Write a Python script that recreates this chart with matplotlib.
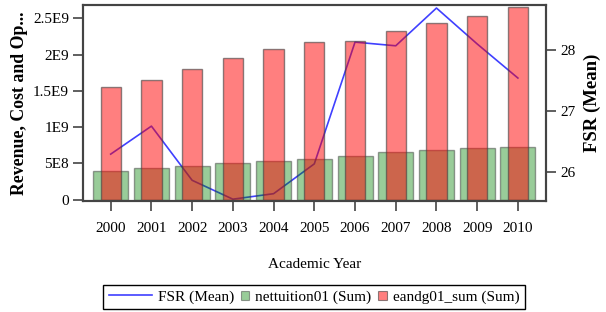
import matplotlib

matplotlib.use("Agg")
import matplotlib.pyplot as plt
import numpy as np
from matplotlib.legend_handler import HandlerBase
from matplotlib.lines import Line2D
from matplotlib.offsetbox import DrawingArea
from matplotlib.patches import Patch, Rectangle

years = ["2000", "2001", "2002", "2003", "2004", "2005", "2006", "2007", "2008", "2009", "2010"]
eandg01_sum = [1.55e9, 1.65e9, 1.80e9, 1.95e9, 2.07e9, 2.17e9, 2.18e9, 2.32e9, 2.43e9, 2.53e9, 2.65e9]
nettuition01 = [0.40e9, 0.44e9, 0.46e9, 0.50e9, 0.535e9, 0.56e9, 0.60e9, 0.65e9, 0.69e9, 0.705e9, 0.725e9]
fsr_mean = [26.29, 26.75, 25.86, 25.55, 25.64, 26.13, 28.13, 28.07, 28.69, 28.10, 27.54]
left_ticks = [0, 5e8, 1e9, 1.5e9, 2e9, 2.5e9]
left_labels = ["0", "5E8", "1E9", "1.5E9", "2E9", "2.5E9"]
right_ticks = [26, 27, 28]

plt.rcParams["font.family"] = ["Liberation Serif", "DejaVu Serif"]
plt.rcParams["font.size"] = 11

GREEN = (0.0, 0.5, 0.0, 0.4)
RED = (1.0, 0.0, 0.0, 0.5)
BLUE = (0.0, 0.0, 1.0, 0.75)
SQUARE = 6.0  # legend square size, points


class SquareHandler(HandlerBase):
    # small square swatch at the left of the handle box
    def create_artists(self, legend, orig_handle, xdescent, ydescent, width, height, fontsize, trans):
        y0 = -ydescent + (height - SQUARE) / 2
        r = Rectangle((-xdescent, y0), SQUARE, SQUARE, transform=trans,
                      facecolor=orig_handle.get_facecolor(), edgecolor=orig_handle.get_edgecolor(),
                      linewidth=0.8)
        return [r]


fig = plt.figure(figsize=(6.06, 3.12), dpi=100)
ax = fig.add_axes([83 / 606, 1 - 201 / 312, 463 / 606, 196 / 312])
ax2 = ax.twinx()
# bars sit above the FSR line, like the original
ax.set_zorder(2)
ax2.set_zorder(1)
ax.patch.set_visible(False)

x = np.arange(len(years))
ax.bar(x, nettuition01, width=0.86, color=GREEN, edgecolor=(0.25, 0.25, 0.25, 0.5), linewidth=1.0)
ax.bar(x, eandg01_sum, width=0.5, color=RED, edgecolor=(0.25, 0.25, 0.25, 0.6), linewidth=1.0)
ax2.plot(x, fsr_mean, color=BLUE, linewidth=1.2)

ax.set_xlim(-0.68, 10.69)
ax.set_ylim(-0.02e9, 2.683e9)
ax2.set_ylim(25.52, 28.74)

ax.set_xticks(x)
ax.set_xticklabels(years)
ax.set_yticks(left_ticks)
ax.set_yticklabels(left_labels)
ax2.set_yticks(right_ticks)

for a in (ax, ax2):
    a.tick_params(direction="out", length=7, width=1.2, color="#444444", pad=3)
    for s in a.spines.values():
        s.set_color("#444444")
        s.set_linewidth(1.5)
ax.tick_params(axis="x", pad=8)

ax.set_ylabel("Revenue, Cost and Op...", fontweight="bold", fontsize=12.8, labelpad=4)
ax2.set_ylabel("FSR (Mean)", fontweight="bold", fontsize=13.5, rotation=90, labelpad=6)
ax.set_xlabel("Academic Year", labelpad=17)

handles = [
    Line2D([0], [0], color=BLUE, linewidth=1.2),
    Patch(facecolor=GREEN, edgecolor=(0.25, 0.25, 0.25, 0.5)),
    Patch(facecolor=RED, edgecolor=(0.25, 0.25, 0.25, 0.6)),
]
leg = fig.legend(
    handles,
    ["FSR (Mean)", "nettuition01 (Sum)", "eandg01_sum (Sum)"],
    handler_map={Patch: SquareHandler()},
    loc="center",
    bbox_to_anchor=(314 / 606, 1 - 297 / 312),
    ncol=3,
    fancybox=False,
    framealpha=1,
    edgecolor="black",
    handlelength=2.8,
    columnspacing=0.45,
    handletextpad=0.4,
    borderpad=0.35,
)
leg.get_frame().set_linewidth(1.0)
# shrink the handle boxes of the two square swatches
boxes = [b for b in leg.findobj(DrawingArea)]
for b in boxes[1:]:
    b.width = SQUARE

fig.savefig("out.png", dpi=100)
